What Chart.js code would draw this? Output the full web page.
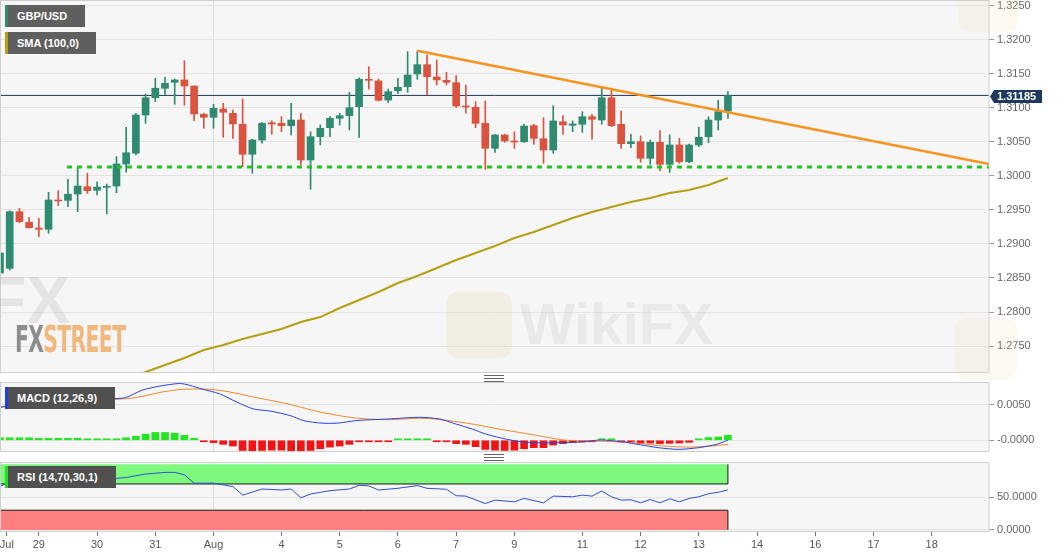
<!DOCTYPE html>
<html>
<head>
<meta charset="utf-8">
<title>GBP/USD 4H</title>
<script src="https://cdn.jsdelivr.net/npm/chart.js"></script>
<style>
  body { margin: 0; background: #fff; width: 1060px; height: 555px; overflow: hidden; position: relative; font-family: "Liberation Sans", Arial, sans-serif; }
  canvas { position: absolute; left: 0; }
  .lbl { position: absolute; left: 5px; height: 22px; line-height: 22px; color: #fff; font-weight: bold; font-size: 11px; padding-left: 9px; border-left: 3px solid; box-sizing: border-box; white-space: nowrap; }
  .grip { position: absolute; width: 20px; height: 5px; border-top: 1px solid #666; border-bottom: 1px solid #666; }
  .grip:after { content: ""; position: absolute; left: 0; right: 0; top: 2px; border-top: 1px solid #666; }
  .wm { position: absolute; pointer-events: none; white-space: nowrap; font-weight: bold; }
</style>
</head>
<body>
<canvas id="main" width="1060" height="373" style="top:0"></canvas>
<canvas id="macd" width="1060" height="70" style="top:382px"></canvas>
<canvas id="rsi" width="1060" height="93" style="top:462px"></canvas>

<div class="wm" style="left:-14px;top:262px;font-size:66px;color:rgba(150,150,150,0.18)">FX</div>
<div class="wm" style="left:446px;top:292px;width:66px;height:66px;border-radius:12px;background:rgba(235,205,150,0.18)"></div>
<div class="wm" style="left:520px;top:290px;font-size:58px;color:rgba(120,120,120,0.10)">WikiFX</div>
<div class="wm" style="left:955px;top:318px;width:62px;height:62px;border-radius:12px;background:rgba(240,215,160,0.16)"></div>
<div class="wm" style="left:958px;top:-20px;width:60px;height:52px;border-radius:12px;background:rgba(240,215,160,0.16)"></div>
<div class="wm" style="left:15px;top:318px;font-family:'Liberation Sans Narrow','DejaVu Sans Condensed',sans-serif;font-size:37px;letter-spacing:-1px;transform:scaleX(0.61);transform-origin:left"><span style="color:#8d8d8d">FX</span><span style="color:#f1b77c">STREET</span></div>

<div class="lbl" style="top:5px;width:80px;background:#5f5f5f;border-left-color:#2e8a70">GBP/USD</div>
<div class="lbl" style="top:32px;width:91px;background:#5f5f5f;border-left-color:#b59f12">SMA (100,0)</div>
<div class="lbl" style="top:387px;width:110px;background:#505050;border-left-color:#1f3fe0">MACD (12,26,9)</div>
<div class="lbl" style="top:466px;width:111px;background:#505050;border-left-color:#22dd22">RSI (14,70,30,1)</div>

<div class="grip" style="left:484px;top:375px"></div>
<div class="grip" style="left:484px;top:454px"></div>

<script>
// 4-hour candles, first one sits at index -1 (cut by the left edge)
var firstIndex = -1;
var opens  = [1.28573,1.28642,1.29475,1.29319,1.29235,1.29216,1.29647,1.29642,1.29735,1.29842,
              1.29790,1.29834,1.29853,1.30176,1.30334,1.30897,1.31151,1.31290,1.31378,1.31412,
              1.31323,1.30907,1.30863,1.30985,1.30922,1.30760,1.30319,1.30529,1.30784,1.30775,
              1.30740,1.30823,1.30235,1.30578,1.30710,1.30848,1.30887,1.31019,1.31422,1.31397,
              1.31117,1.31254,1.31313,1.31500,1.31637,1.31456,1.31407,1.31372,1.31029,1.31010,
              1.30775,1.30407,1.30603,1.30515,1.30504,1.30740,1.30548,1.30382,1.30798,1.30745,
              1.30760,1.30872,1.30823,1.31151,1.30760,1.30475,1.30504,1.30260,1.30495,1.30172,
              1.30456,1.30210,1.30456,1.30578,1.30823,1.30956];
var highs  = [1.28926,1.29490,1.29525,1.29392,1.29378,1.29760,1.29784,1.29951,1.30137,1.30040,
              1.29916,1.29882,1.30284,1.30716,1.30922,1.31206,1.31437,1.31451,1.31426,1.31695,
              1.31323,1.30922,1.31054,1.31069,1.30970,1.31132,1.30540,1.30784,1.30813,1.30872,
              1.31069,1.30922,1.30651,1.30750,1.30872,1.30922,1.31231,1.31445,1.31607,1.31426,
              1.31279,1.31437,1.31828,1.31838,1.31779,1.31706,1.31525,1.31475,1.31338,1.31092,
              1.31103,1.30613,1.30617,1.30651,1.30760,1.30760,1.30857,1.31034,1.30887,1.30809,
              1.30945,1.30907,1.31290,1.31265,1.30956,1.30613,1.30588,1.30529,1.30666,1.30603,
              1.30554,1.30470,1.30716,1.30872,1.31113,1.31240];
var lows   = [1.28529,1.28617,1.29313,1.29231,1.29107,1.29157,1.29563,1.29548,1.29475,1.29745,
              1.29720,1.29441,1.29754,1.30054,1.30309,1.30775,1.31092,1.31201,1.31054,1.31040,
              1.30813,1.30701,1.30701,1.30569,1.30554,1.30137,1.30040,1.30481,1.30613,1.30651,
              1.30603,1.30162,1.29804,1.30456,1.30578,1.30750,1.30676,1.30569,1.31279,1.31103,
              1.31078,1.31216,1.31231,1.31422,1.31191,1.31338,1.31338,1.31010,1.30922,1.30710,
              1.30098,1.30348,1.30495,1.30407,1.30495,1.30466,1.30187,1.30334,1.30613,1.30651,
              1.30642,1.30540,1.30760,1.30725,1.30407,1.30416,1.30201,1.30172,1.30073,1.30054,
              1.30187,1.30195,1.30431,1.30490,1.30676,1.30848];
var closes = [1.28867,1.29475,1.29328,1.29240,1.29216,1.29647,1.29632,1.29731,1.29853,1.29784,
              1.29838,1.29848,1.30176,1.30342,1.30897,1.31151,1.31290,1.31363,1.31412,1.31323,
              1.30912,1.30863,1.30995,1.30937,1.30765,1.30319,1.30529,1.30775,1.30765,1.30740,
              1.30823,1.30235,1.30578,1.30701,1.30848,1.30887,1.31004,1.31422,1.31407,1.31113,
              1.31240,1.31304,1.31485,1.31637,1.31460,1.31412,1.31378,1.31029,1.31015,1.30775,
              1.30407,1.30603,1.30515,1.30500,1.30735,1.30554,1.30382,1.30809,1.30750,1.30765,
              1.30872,1.30834,1.31151,1.30740,1.30475,1.30504,1.30260,1.30495,1.30172,1.30456,
              1.30210,1.30456,1.30569,1.30823,1.30945,1.31185];
var lastPrice = 1.31185;

var smaIndex  = [10,12,14,16,18,20,22,24,26,28,30,32,34,36,38,40,42,44,46,48,50,52,54,56,58,60,62,64,66,68,70,72,74];
var smaValues = [1.26912,1.27015,1.27117,1.27220,1.27323,1.27441,1.27514,1.27603,1.27676,1.27750,
                 1.27853,1.27926,1.28059,1.28176,1.28294,1.28426,1.28529,1.28647,1.28764,1.28867,
                 1.28970,1.29088,1.29176,1.29279,1.29382,1.29470,1.29544,1.29617,1.29676,1.29750,
                 1.29794,1.29867,1.29970];

var trendIndex = [42, 100.9];
var trendValues = [1.31842, 1.30176];
var supportIndex = [5.9, 101];
var supportLevel = 1.30132;

var priceTicks = [1.2750,1.2800,1.2850,1.2900,1.2950,1.3000,1.3050,1.3100,1.3150,1.3200,1.3250];
var dayTickIndex  = [-0.3,3,9,15,21,28,34,40,46,52,59,65,71,77,83,89,95];
var dayTickLabels = ['Jul','29','30','31','Aug','4','5','6','7','9','11','12','13','14','16','17','18'];
var monthTick = 21;

// MACD (12,26,9)
var histValues = [0.00036,0.00036,0.00036,0.00036,0.00029,0.00029,0.00029,0.00029,0.00029,0.00021,
                  0.00014,0.00014,0.00021,0.00036,0.00057,0.00086,0.00110,0.00110,0.00100,0.00071,
                  0.00029,-0.00007,-0.00033,-0.00057,-0.00081,-0.00143,-0.00153,-0.00143,-0.00139,-0.00139,
                  -0.00153,-0.00153,-0.00143,-0.00119,-0.00096,-0.00081,-0.00057,-0.00019,-0.00010,-0.00007,
                  -0.00004,0.00004,0.00007,0.00007,0.00004,-0.00004,-0.00011,-0.00047,-0.00057,-0.00090,
                  -0.00129,-0.00139,-0.00143,-0.00139,-0.00119,-0.00104,-0.00104,-0.00067,-0.00047,-0.00033,
                  -0.00024,-0.00010,0.00007,0.00004,-0.00007,-0.00021,-0.00039,-0.00039,-0.00047,-0.00043,
                  -0.00039,-0.00029,0.00014,0.00039,0.00047,0.00071];
var macdIndex  = [-1,2.5,6,9.5,11.9,13.6,15.4,17.5,18.5,19.9,21.6,23.4,25.1,26.9,28.9,30.3,32.1,33.8,35.6,37.3,
                  39,42.2,44.3,46,47.7,49.1,51.2,53.6,58.8,60.9,63,65.1,66.8,68.9,71,72.8,74];
var macdValues = [0.00466,0.00538,0.00572,0.00586,0.00600,0.00704,0.00762,0.00800,0.00776,0.00718,
                  0.00656,0.00538,0.00442,0.00410,0.00348,0.00276,0.00242,0.00242,0.00276,0.00290,
                  0.00300,0.00324,0.00300,0.00228,0.00156,0.00086,0.00014,-0.00034,-0.00024,0.00004,
                  -0.00020,-0.00066,-0.00104,-0.00128,-0.00104,-0.00058,0];
var signalIndex  = [-1,2.5,6,9.5,12.9,15.7,17.8,20.6,22.7,25.1,28.6,32.1,35.6,39,42.5,45.3,47.7,50.5,53.6,57.1,
                    60.6,64,67.5,70,72.1,74];
var signalValues = [0.00466,0.00490,0.00538,0.00562,0.00600,0.00680,0.00718,0.00718,0.00680,0.00610,
                    0.00514,0.00394,0.00314,0.00290,0.00310,0.00276,0.00228,0.00156,0.00086,0.00004,
                    -0.00010,-0.00034,-0.00082,-0.00096,-0.00082,-0.00058];
var macdTicks = [0, 0.005];

// RSI (14,70,30,1)
var rsiIndex  = [-1,0,2,6,9,12,14,16,17,18,19,21,23,24,26,28,29,30,31,33,35,36,37,38,40,42,43,45,46,47,
                 49,50,52,53,55,56,58,59,60,61,62,63,64,65,66,67,68,69,70,71,72,73,74];
var rsiValues = [66.0,73.8,71.2,73.8,76.2,79.9,85.1,87.7,87.7,84.0,71.2,71.2,66.0,53.0,62.3,60.8,62.3,48.9,54.7,59.8,
                 62.3,68.0,67.1,60.8,63.4,67.5,63.4,61.9,52.1,51.5,40.2,45.4,42.8,48.0,41.3,51.5,50.5,53.0,51.5,59.3,
                 50.5,45.4,45.9,41.3,46.3,41.3,47.4,42.8,48.0,50.5,55.2,57.3,61.0];
var rsiLevels = [30, 70, 100];
var rsiTicks = [0, 50];
var indicatorEnd = 74;

Chart.defaults.font.family = '"Liberation Sans", Arial, sans-serif';
Chart.defaults.font.size = 11;
Chart.defaults.animation = false;

var green = '#2e8a70', red = '#d9533e';
var candleX = opens.map(function (o, i) { return firstIndex + i; });
var candleColors = opens.map(function (o, i) { return closes[i] >= o ? green : red; });
function pts(xs, ys) { return xs.map(function (x, i) { return { x: x, y: ys[i] }; }); }

var panel = {
  id: 'panel',
  beforeDraw: function (c) {
    var a = c.chartArea, g = c.ctx;
    g.save(); g.fillStyle = '#f6f6f6'; g.fillRect(a.left, a.top, a.width, a.height); g.restore();
  },
  afterDraw: function (c) {
    var a = c.chartArea, g = c.ctx;
    g.save(); g.strokeStyle = '#cfcfcf'; g.lineWidth = 1;
    g.strokeRect(a.left + 0.5, a.top + 0.5, a.width - 0.5, a.height - 1);
    g.restore();
  }
};

var priceTag = {
  id: 'priceTag',
  afterDraw: function (c) {
    var y = c.scales.y.getPixelForValue(lastPrice), r = c.chartArea.right, g = c.ctx;
    g.save();
    g.fillStyle = '#1d3a5e';
    g.beginPath();
    g.moveTo(r + 1, y + 1); g.lineTo(r + 5, y - 5.5); g.lineTo(r + 53, y - 5.5);
    g.lineTo(r + 53, y + 7.5); g.lineTo(r + 5, y + 7.5); g.closePath(); g.fill();
    g.fillStyle = '#fff'; g.font = 'bold 11px "Liberation Sans", Arial, sans-serif';
    g.textBaseline = 'middle';
    g.fillText(lastPrice.toFixed(5), r + 8, y + 1.5);
    g.restore();
  }
};

function xAxis(showLabels) {
  return {
    type: 'linear', min: -1, max: 100.9, offset: false,
    afterBuildTicks: function (s) { s.ticks = dayTickIndex.map(function (v) { return { value: v }; }); },
    afterFit: function (s) { s.paddingLeft = 0; s.paddingRight = 0; if (!showLabels) s.height = 0; else s.height = 23; },
    ticks: { display: showLabels, autoSkip: false, maxRotation: 0, color: '#555', padding: 2,
             callback: function (v, i) { return dayTickLabels[i]; } },
    grid: { offset: false, drawTicks: showLabels, tickLength: 4, tickColor: '#777',
            color: function (ctx) { return ctx.tick && ctx.tick.value === monthTick ? '#dedede' : 'rgba(0,0,0,0)'; } },
    border: { display: false }
  };
}

function yAxis(min, max, ticks, fmt) {
  return {
    position: 'right', min: min, max: max,
    afterBuildTicks: function (s) { s.ticks = ticks.map(function (v) { return { value: v }; }); },
    afterFit: function (s) { s.width = 71; s.paddingTop = 0; s.paddingBottom = 0; },
    ticks: { color: '#666', padding: 3, callback: fmt },
    grid: { color: '#e3e3e3', tickLength: 5, tickColor: '#999' },
    border: { display: false }
  };
}

var common = {
  responsive: false, events: [],
  layout: { padding: 0 },
  plugins: { legend: { display: false }, tooltip: { enabled: false } }
};

new Chart(document.getElementById('main'), {
  type: 'bar',
  data: {
    datasets: [
      { type: 'line', data: pts(trendIndex, trendValues), borderColor: '#f7931e', borderWidth: 2.5, pointRadius: 0, order: 1 },
      { type: 'line', data: [{ x: supportIndex[0], y: supportLevel }, { x: supportIndex[1], y: supportLevel }],
        borderColor: '#22c322', borderWidth: 3, borderDash: [5, 5], pointRadius: 0, order: 2 },
      { type: 'line', data: pts(smaIndex, smaValues), borderColor: '#b59f12', borderWidth: 2, pointRadius: 0, order: 3 },
      { data: candleX.map(function (x, i) { return { x: x, y: [opens[i], closes[i]] }; }),
        backgroundColor: candleColors, barThickness: 7, minBarLength: 1, grouped: false, order: 4 },
      { data: candleX.map(function (x, i) { return { x: x, y: [lows[i], highs[i]] }; }),
        backgroundColor: candleColors, barThickness: 1, grouped: false, order: 5 },
      { type: 'line', data: [{ x: -1.5, y: lastPrice }, { x: 102, y: lastPrice }],
        borderColor: '#1c355a', borderWidth: 1, pointRadius: 0, order: 6 }
    ]
  },
  options: Object.assign({}, common, {
    scales: {
      x: xAxis(false),
      y: yAxis(1.27103, 1.32588, priceTicks, function (v) { return v.toFixed(4); })
    }
  }),
  plugins: [panel, priceTag]
});

new Chart(document.getElementById('macd'), {
  type: 'bar',
  data: {
    datasets: [
      { type: 'line', data: pts(macdIndex, macdValues), borderColor: '#2a44e0', borderWidth: 1, pointRadius: 0, tension: 0.25, order: 1 },
      { type: 'line', data: pts(signalIndex, signalValues), borderColor: '#f0862a', borderWidth: 1, pointRadius: 0, tension: 0.25, order: 2 },
      { data: histValues.map(function (v, i) { return { x: firstIndex + i, y: v }; }),
        backgroundColor: histValues.map(function (v) { return v >= 0 ? '#22e622' : '#f01414'; }),
        barThickness: 7, minBarLength: 1.5, grouped: false, order: 3 }
    ]
  },
  options: Object.assign({}, common, {
    scales: {
      x: xAxis(false),
      y: yAxis(-0.00165, 0.00821, macdTicks, function (v) { return v === 0 ? '-0.0000' : v.toFixed(4); })
    }
  }),
  plugins: [panel]
});

new Chart(document.getElementById('rsi'), {
  type: 'line',
  data: {
    datasets: [
      { data: pts(rsiIndex, rsiValues), borderColor: '#2c4fd6', borderWidth: 1, pointRadius: 0, order: 0 },
      { data: [{ x: -1.5, y: rsiLevels[2] }, { x: indicatorEnd, y: rsiLevels[2] }], borderWidth: 0, pointRadius: 0,
        backgroundColor: '#7ef97e', fill: '+1', order: 5 },
      { data: [{ x: -1.5, y: rsiLevels[1] }, { x: indicatorEnd, y: rsiLevels[1] }], borderColor: '#1a1a1a', borderWidth: 1,
        pointRadius: 0, fill: false, order: 4 },
      { data: [{ x: -1.5, y: rsiLevels[0] }, { x: indicatorEnd, y: rsiLevels[0] }], borderColor: '#1a1a1a', borderWidth: 1,
        pointRadius: 0, backgroundColor: '#fd8080', fill: { value: 0 }, order: 4 },
      { data: [{ x: indicatorEnd, y: 0 }, { x: indicatorEnd, y: rsiLevels[0] }, { x: indicatorEnd, y: null },
               { x: indicatorEnd, y: rsiLevels[1] }, { x: indicatorEnd, y: rsiLevels[2] }],
        borderColor: '#1a1a1a', borderWidth: 1, pointRadius: 0, spanGaps: false, order: 3 }
    ]
  },
  options: Object.assign({}, common, {
    scales: {
      x: xAxis(true),
      y: yAxis(-3.2, 103.5, rsiTicks, function (v) { return v.toFixed(4); })
    }
  }),
  plugins: [panel]
});
</script>
</body>
</html>
